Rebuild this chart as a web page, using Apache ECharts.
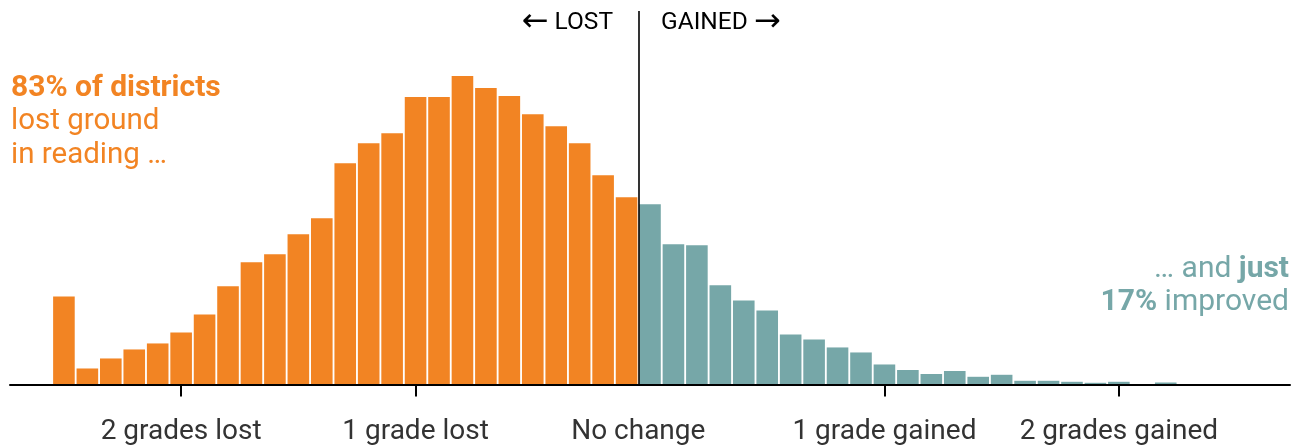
<!DOCTYPE html>
<html>
<head>
<meta charset="utf-8">
<title>Reading: grades lost or gained</title>
<script src="https://cdn.jsdelivr.net/npm/echarts@6/dist/echarts.min.js"></script>
<style>
  html, body { margin: 0; padding: 0; background: #fff; }
  #chart { width: 1302px; height: 447px; }
</style>
</head>
<body>
<div id="chart"></div>
<script>
// bins are 0.1 grade wide, value = bin centre (grades gained, negative = lost)
var lostBins = [-2.5, -2.4, -2.3, -2.2, -2.1, -2.0, -1.9, -1.8, -1.7, -1.6, -1.5, -1.4, -1.3,
  -1.2, -1.1, -1.0, -0.9, -0.8, -0.7, -0.6, -0.5, -0.4, -0.3, -0.2, -0.1];
var lostCounts = [88, 16, 26, 35, 41, 52, 70, 98, 122, 130, 150, 166, 221,
  241, 251, 287, 287, 308, 296, 288, 270, 258, 241, 209, 187];

var gainedBins = [0.0, 0.1, 0.2, 0.3, 0.4, 0.5, 0.6, 0.7, 0.8, 0.9, 1.0, 1.1, 1.2, 1.3,
  1.4, 1.5, 1.6, 1.7, 1.8, 1.9, 2.0, 2.1, 2.2, 2.3, 2.4, 2.5, 2.6];
var gainedCounts = [180, 140, 139, 99, 84, 74, 50, 45, 37, 32, 20, 14.5, 10.5, 13.5,
  7.7, 9.7, 3.7, 3.7, 2.7, 1.7, 2.7, 0, 2, 0, 0.5, 0, 0.5];

var tickValues = [-2, -1, 1, 2];
var labelValues = [-2, -1, -0.05, 1, 2];
var labelNames = {
  '-2': '2 grades lost',
  '-1': '1 grade lost',
  '-0.05': 'No change',
  '1': '1 grade gained',
  '2': '2 grades gained'
};
var dividerAt = -0.05;

var ORANGE = '#F28423';
var TEAL = '#76A7A8';
var FONT = 'Roboto, "Noto Sans", sans-serif';
var ARROW_FONT = '"DejaVu Sans", sans-serif';

function pairs(xs, ys) {
  return xs.map(function (x, i) { return [x, ys[i]]; });
}

var chart = echarts.init(document.getElementById('chart'));

var boldStyle = function (color) {
  return { fontWeight: 'bold', fontSize: 30, fontFamily: FONT, fill: color, lineHeight: 34 };
};
var arrowStyle = { fontFamily: ARROW_FONT, fontSize: 32, fill: '#000', lineHeight: 30 };

var option = {
  animation: false,
  grid: { left: 10, right: 12, top: 11, bottom: 62.5 },
  xAxis: {
    type: 'value',
    min: -2.73,
    max: 2.73,
    z: 5,
    splitLine: { show: false },
    axisLine: { show: true, onZero: false, lineStyle: { color: '#000', width: 2 } },
    axisTick: {
      show: true,
      customValues: tickValues,
      length: 12,
      lineStyle: { color: '#000', width: 2 }
    },
    axisLabel: {
      customValues: labelValues,
      margin: 33,
      fontFamily: FONT,
      fontSize: 28,
      color: '#333',
      formatter: function (v) {
        return labelNames[String(Math.round(v * 100) / 100)] || '';
      }
    }
  },
  yAxis: {
    type: 'value',
    min: 0,
    max: 373,
    show: false
  },
  series: [
    {
      name: 'lost',
      type: 'bar',
      barWidth: 21.6,
      barGap: '-100%',
      itemStyle: { color: ORANGE },
      data: pairs(lostBins, lostCounts),
      markLine: {
        silent: true,
        symbol: 'none',
        label: { show: false },
        lineStyle: { color: '#000', width: 1.6, type: 'solid' },
        data: [{ xAxis: dividerAt }]
      }
    },
    {
      name: 'gained',
      type: 'bar',
      barWidth: 21.6,
      barGap: '-100%',
      itemStyle: { color: TEAL },
      data: pairs(gainedBins, gainedCounts)
    }
  ],
  graphic: [
    {
      type: 'text',
      right: 1302 - 613,
      top: 7,
      style: {
        text: '{a|←} LOST',
        font: '24.5px ' + FONT,
        fill: '#000',
        lineHeight: 30,
        rich: { a: arrowStyle }
      }
    },
    {
      type: 'text',
      left: 661,
      top: 7,
      style: {
        text: 'GAINED {a|→}',
        font: '24.5px ' + FONT,
        fill: '#000',
        lineHeight: 30,
        rich: { a: arrowStyle }
      }
    },
    {
      type: 'text',
      left: 11,
      top: 71,
      style: {
        text: '{b|83% of districts}\nlost ground\nin reading …',
        font: '29.5px ' + FONT,
        fill: ORANGE,
        lineHeight: 34,
        rich: { b: boldStyle(ORANGE) }
      }
    },
    {
      type: 'text',
      right: 13,
      top: 252,
      style: {
        text: '… and {b|just}',
        font: '30px ' + FONT,
        fill: TEAL,
        lineHeight: 33,
        rich: { b: boldStyle(TEAL) }
      }
    },
    {
      type: 'text',
      right: 13,
      top: 285,
      style: {
        text: '{b|17%} improved',
        font: '30px ' + FONT,
        fill: TEAL,
        lineHeight: 33,
        rich: { b: boldStyle(TEAL) }
      }
    }
  ]
};

chart.setOption(option);
</script>
</body>
</html>
